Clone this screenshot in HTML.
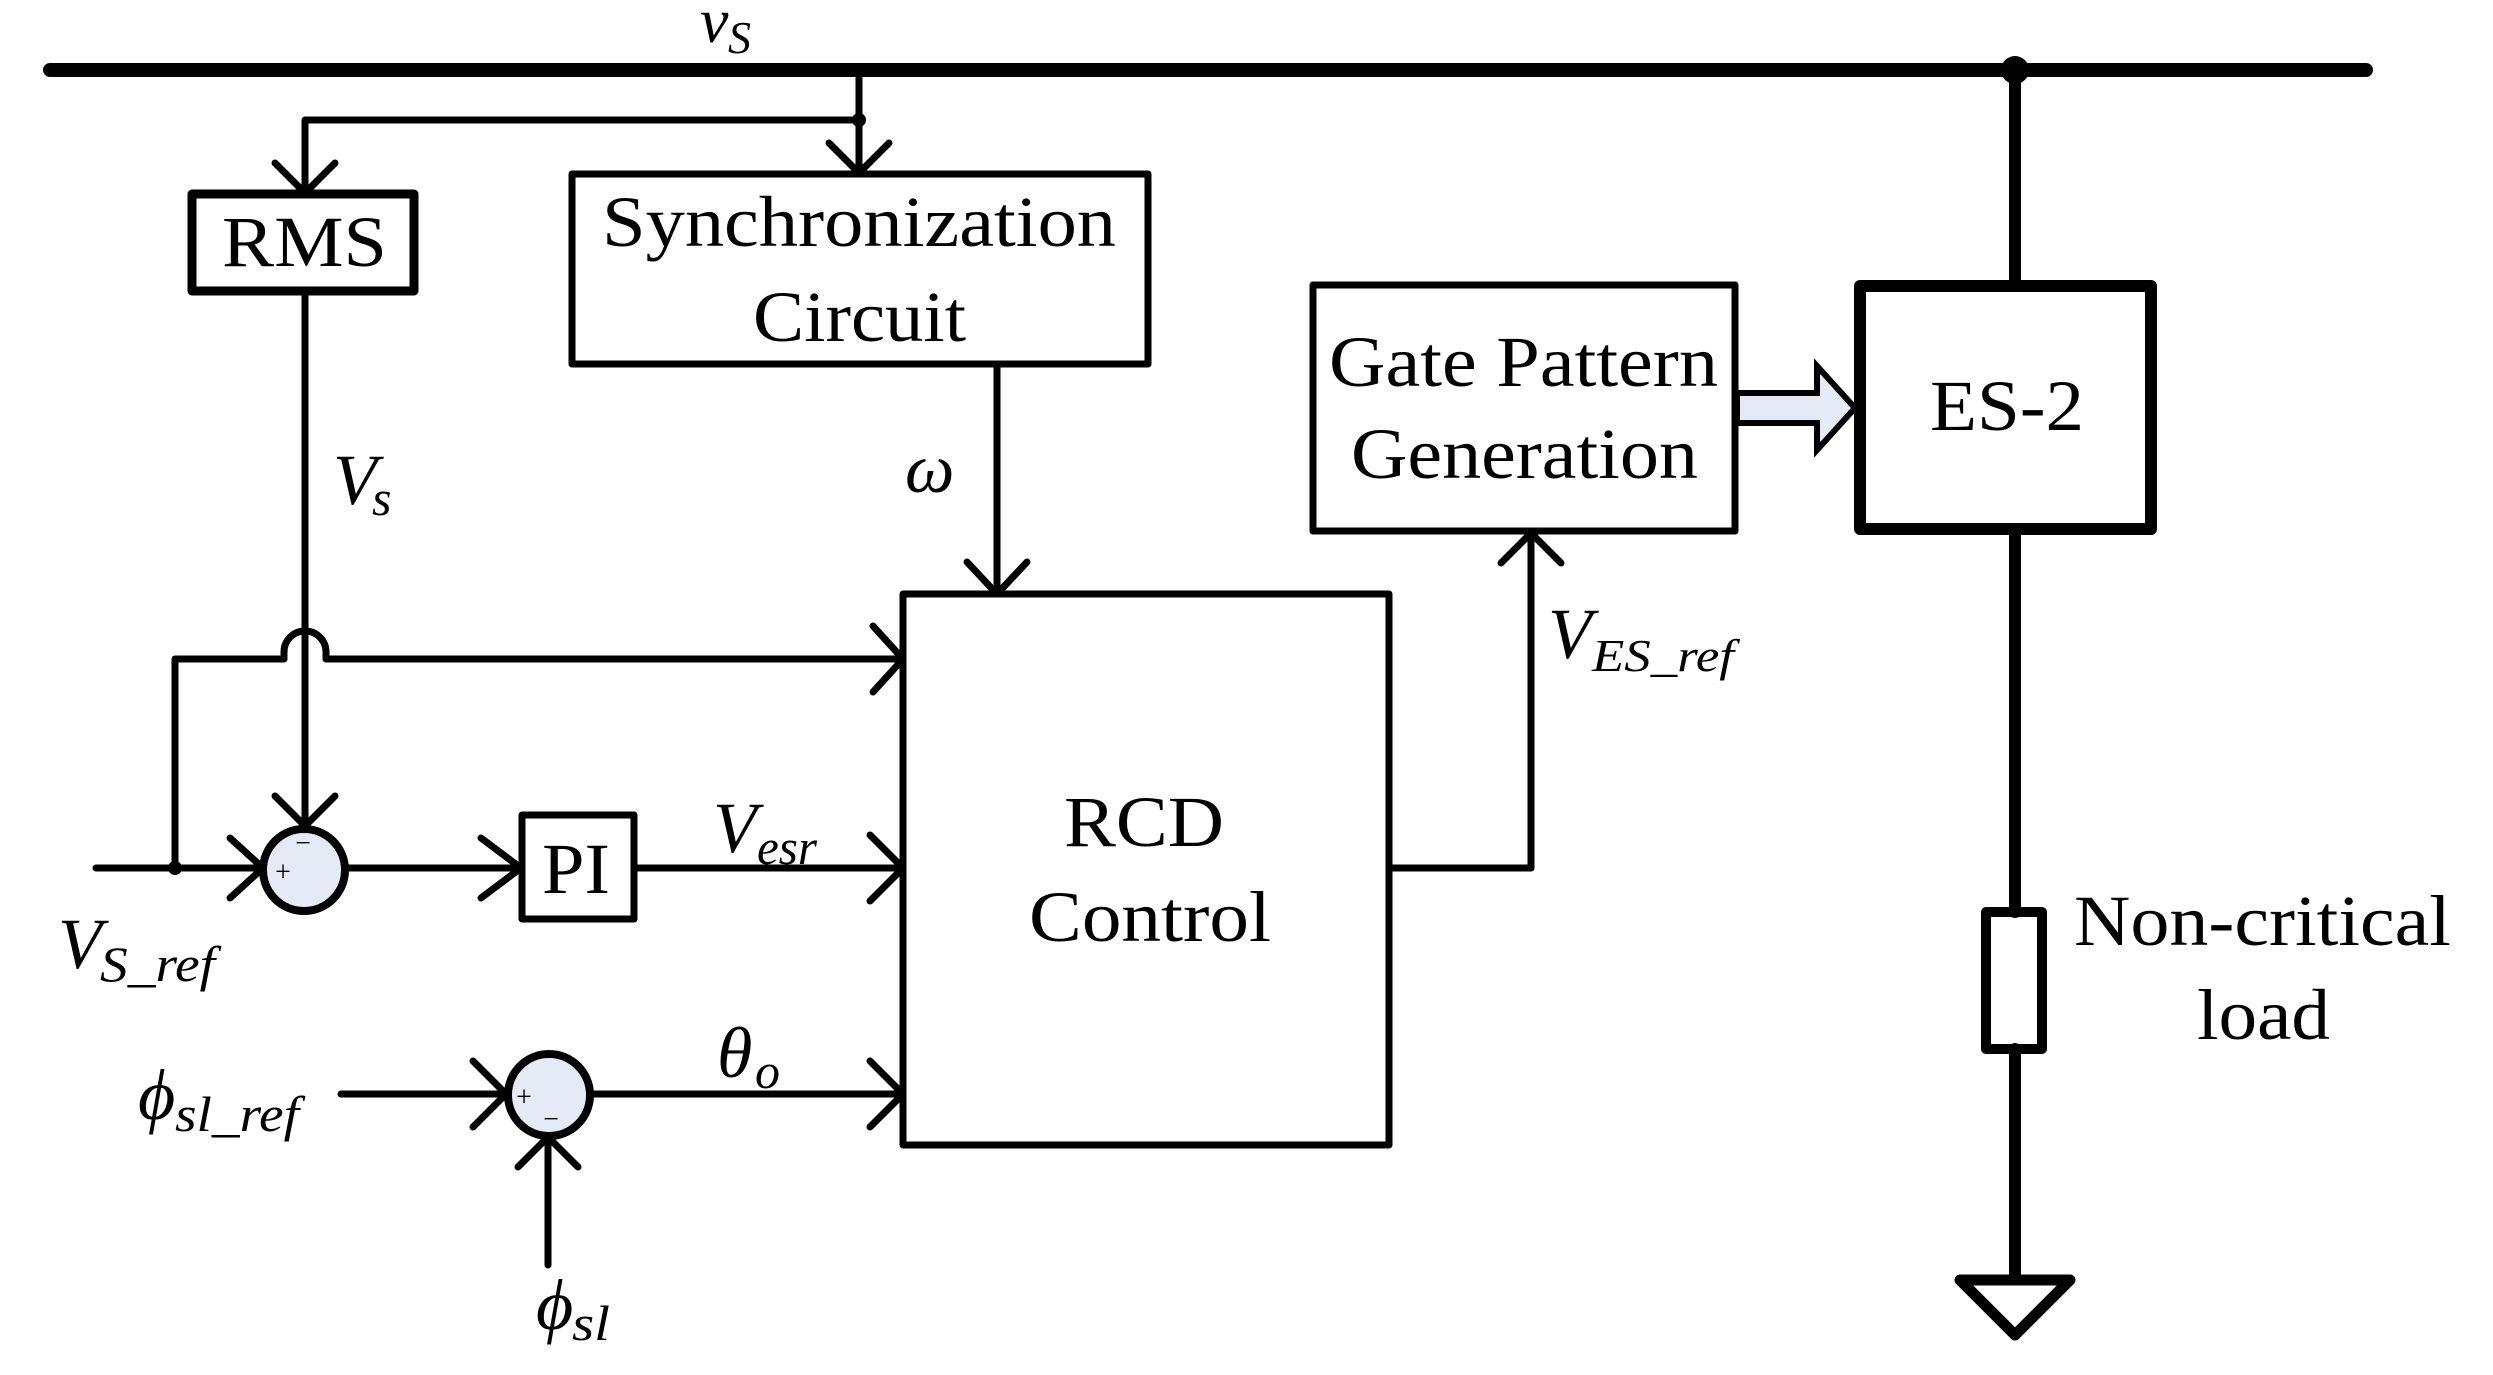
<!DOCTYPE html>
<html><head><meta charset="utf-8"><style>
html,body{margin:0;padding:0;background:#fff;}
svg{display:block;}
text{font-family:"Liberation Serif",serif;fill:#000;}
.i{font-style:italic;}
</style></head><body>
<svg width="2493" height="1375" viewBox="0 0 2493 1375" xmlns="http://www.w3.org/2000/svg">
<g fill="none" stroke="#000" stroke-width="7" stroke-linecap="round" stroke-linejoin="round">
<line x1="50" y1="70" x2="2366" y2="70" stroke-width="14"/>
<line x1="859" y1="70" x2="859" y2="173"/>
<polyline points="859,120 305,120 305,193"/>
<polyline points="275,163 305,193 335,163"/>
<polyline points="829,143 859,173 889,143"/>
<rect x="192" y="194" width="222" height="97" stroke-width="9"/>
<rect x="572" y="174" width="576" height="190" stroke-width="7"/>
<line x1="305" y1="291" x2="305" y2="826"/>
<polyline points="275,796 305,826 335,796"/>
<line x1="997" y1="364" x2="997" y2="594"/>
<polyline points="967,562 997,594 1027,562"/>
<rect x="903" y="594" width="486" height="551" stroke-width="7"/>
<path d="M175 868 V659 H284 V652 A21 21 0 0 1 326 652 V659 H903"/>
<polyline points="873,626 903,659 873,692"/>
<line x1="96" y1="868" x2="263" y2="868"/>
<polyline points="230,838 263,868 230,898"/>
<line x1="346" y1="868" x2="521" y2="868"/>
<polyline points="481,838 521,868 481,898"/>
<rect x="522" y="815" width="112" height="104"/>
<line x1="634" y1="868" x2="903" y2="868"/>
<polyline points="870,835 903,868 870,901"/>
<line x1="341" y1="1094" x2="506" y2="1094"/>
<polyline points="473,1061 506,1094 473,1127"/>
<line x1="591" y1="1094" x2="903" y2="1094"/>
<polyline points="870,1061 903,1094 870,1127"/>
<line x1="548" y1="1265" x2="548" y2="1137"/>
<polyline points="518,1167 548,1137 578,1167"/>
<polyline points="1389,868 1531,868 1531,533"/>
<polyline points="1501,563 1531,533 1561,563"/>
<rect x="1313" y="285" width="422" height="246" stroke-width="7"/>
<line x1="2015" y1="70" x2="2015" y2="285" stroke-width="12"/>
<rect x="1860" y="286" width="291" height="243" stroke-width="12"/>
<line x1="2015" y1="529" x2="2015" y2="912" stroke-width="12"/>
<rect x="1986" y="912" width="56" height="137" stroke-width="10"/>
<line x1="2015" y1="1049" x2="2015" y2="1276" stroke-width="12"/>
<polygon points="1960,1280 2070,1280 2015,1335" stroke-width="11"/>
</g>
<polygon points="1737,393 1817,393 1817,366 1855,408 1817,450 1817,423 1737,423" fill="#e4eaf6" stroke="#000" stroke-width="6" stroke-linejoin="miter"/>
<circle cx="859" cy="120" r="7"/>
<circle cx="175" cy="868" r="7"/>
<circle cx="2015" cy="70" r="14"/>
<circle cx="304" cy="870" r="41" fill="#e4eaf6" stroke="#000" stroke-width="8"/>
<circle cx="549" cy="1095" r="41" fill="#e4eaf6" stroke="#000" stroke-width="8"/>
<text x="283" y="881" font-size="28" text-anchor="middle">+</text>
<text x="303" y="852" font-size="28" text-anchor="middle">−</text>
<text x="524" y="1106" font-size="28" text-anchor="middle">+</text>
<text x="551" y="1128" font-size="28" text-anchor="middle">−</text>
<text x="222" y="266" font-size="72" textLength="165" lengthAdjust="spacingAndGlyphs">RMS</text>
<text x="602" y="246" font-size="72" textLength="514" lengthAdjust="spacingAndGlyphs">Synchronization</text>
<text x="753" y="341" font-size="72" textLength="213" lengthAdjust="spacingAndGlyphs">Circuit</text>
<text x="1064" y="846" font-size="72" textLength="160" lengthAdjust="spacingAndGlyphs">RCD</text>
<text x="1029" y="941" font-size="72" textLength="242" lengthAdjust="spacingAndGlyphs">Control</text>
<text x="542" y="893" font-size="72" textLength="68" lengthAdjust="spacingAndGlyphs">PI</text>
<text x="1329" y="386" font-size="72" textLength="389" lengthAdjust="spacingAndGlyphs">Gate Pattern</text>
<text x="1351" y="478" font-size="72" textLength="347" lengthAdjust="spacingAndGlyphs">Generation</text>
<text x="1930" y="430" font-size="72" textLength="154" lengthAdjust="spacingAndGlyphs">ES-2</text>
<text x="2074" y="945" font-size="72" textLength="377" lengthAdjust="spacingAndGlyphs">Non-critical</text>
<text x="2197" y="1039" font-size="72" textLength="133" lengthAdjust="spacingAndGlyphs">load</text>
<text class="i" x="700" y="42" font-size="64">v</text>
<text class="i" x="728" y="53" font-size="46">S</text>
<text class="i" x="333" y="504" font-size="72">V</text>
<text class="i" x="372" y="515" font-size="50">s</text>
<text class="i" x="905" y="492" font-size="70">ω</text>
<text class="i" x="713" y="852" font-size="72">V</text>
<text class="i" x="757" y="864" font-size="50" textLength="60" lengthAdjust="spacingAndGlyphs">esr</text>
<text class="i" x="58" y="968" font-size="72">V</text>
<text class="i" x="100" y="981" font-size="50" textLength="115" lengthAdjust="spacingAndGlyphs">S_ref</text>
<text class="i" x="717" y="1077" font-size="72">θ</text>
<text class="i" x="755" y="1088" font-size="50">o</text>
<text class="i" x="138" y="1119" font-size="72">ϕ</text>
<text class="i" x="175" y="1131" font-size="50" textLength="124" lengthAdjust="spacingAndGlyphs">sl_ref</text>
<text class="i" x="536" y="1329" font-size="72">ϕ</text>
<text class="i" x="572" y="1340" font-size="50" textLength="38" lengthAdjust="spacingAndGlyphs">sl</text>
<text class="i" x="1548" y="658" font-size="72">V</text>
<text class="i" x="1592" y="671" font-size="46" textLength="142" lengthAdjust="spacingAndGlyphs">ES_ref</text>
</svg>
</body></html>
